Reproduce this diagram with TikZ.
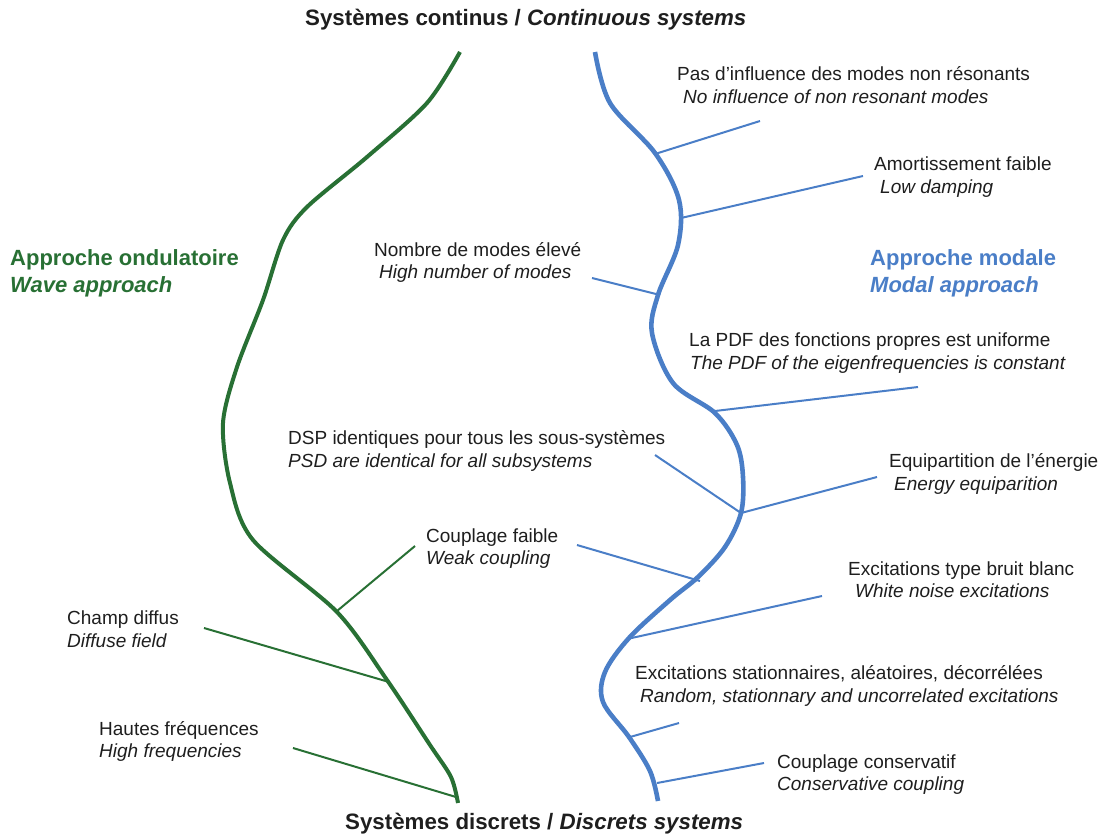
\documentclass[tikz,border=0pt]{standalone}
\usepackage{fontspec}
\setmainfont{Liberation Sans}
\definecolor{wavegreen}{RGB}{40,112,52}
\definecolor{modalblue}{RGB}{74,126,199}
\definecolor{txt}{RGB}{30,30,30}
\tikzset{
  lbl/.style={anchor=base west, inner sep=0pt, text=txt, font=\fontsize{19}{22}\selectfont},
  lbli/.style={lbl, font=\fontsize{19}{22}\selectfont\itshape},
  ttl/.style={anchor=base west, inner sep=0pt, text=txt, font=\fontsize{22.3}{26}\selectfont\bfseries},
  grouplbl/.style={anchor=base west, inner sep=0pt, font=\fontsize{22}{26}\selectfont\bfseries},
  greencurve/.style={draw=wavegreen, line width=4pt},
  bluecurve/.style={draw=modalblue, line width=4.6pt},
  greenbranch/.style={draw=wavegreen, line width=2pt},
  bluebranch/.style={draw=modalblue, line width=2pt},
}
\begin{document}
\begin{tikzpicture}[x=1pt,y=-1pt]
\useasboundingbox (0,0) rectangle (1105,839);

% titles
\node[ttl] (top) at (305,25) {Systèmes continus / \textit{Continuous systems}};
\node[ttl] (bottom) at (345,829) {Systèmes discrets / \textit{Discrets systems}};

% group labels
\node[grouplbl, text=wavegreen] (wave1) at (10,265) {Approche ondulatoire};
\node[grouplbl, text=wavegreen] (wave2) at (10,292) {\itshape Wave approach};
\node[grouplbl, text=modalblue] (modal1) at (870,265) {Approche modale};
\node[grouplbl, text=modalblue] (modal2) at (870,292) {\itshape Modal approach};

% main curves
\draw[greencurve] plot[smooth, tension=0.5] coordinates {(460,52) (427,103) (367,157) (307,207) (283,240) (263,300) (237,367) (223,423) (230,483) (253,540) (337,612) (387,680) (430,745) (451,777) (458,803)};
\draw[bluecurve] plot[smooth, tension=0.55] coordinates {(595,52) (610,103) (655,153) (679,200) (678,245) (658,295) (652,333) (673,383) (715,413) (737,445) (743,477) (741,513) (725,547) (698,577) (670,600) (629,638) (605,672) (603,702) (629,737) (650,771) (658,801)};

% branch points on curves
\coordinate (pb1) at (655,154);
\coordinate (pb2) at (681,218);
\coordinate (pb3) at (660,295);
\coordinate (pb4) at (715,411);
\coordinate (pb5) at (741,513);
\coordinate (pb7) at (700,581);
\coordinate (pb8) at (627,639);
\coordinate (pb9) at (630,737);
\coordinate (pb10) at (657,783);
\coordinate (pg1) at (337,611);
\coordinate (pg2) at (389,682);
\coordinate (pg3) at (456,797);

% free ends
\coordinate (eb1) at (760,121);
\coordinate (eb2) at (863,176);
\coordinate (eb3) at (592,278);
\coordinate (eb4) at (918,387);
\coordinate (eb5) at (655,455);
\coordinate (eb6) at (877,477);
\coordinate (eb7) at (577,545);
\coordinate (eb8) at (822,596);
\coordinate (eb9) at (679,723);
\coordinate (eb10) at (764,763);
\coordinate (eg1) at (415,546);
\coordinate (eg2) at (204,628);
\coordinate (eg3) at (293,748);

% branches
\draw[bluebranch] (pb1) -- (eb1);
\draw[bluebranch] (pb2) -- (eb2);
\draw[bluebranch] (pb3) -- (eb3);
\draw[bluebranch] (pb4) -- (eb4);
\draw[bluebranch] (pb5) -- (eb5);
\draw[bluebranch] (pb5) -- (eb6);
\draw[bluebranch] (pb7) -- (eb7);
\draw[bluebranch] (pb8) -- (eb8);
\draw[bluebranch] (pb9) -- (eb9);
\draw[bluebranch] (pb10) -- (eb10);
\draw[greenbranch] (pg1) -- (eg1);
\draw[greenbranch] (pg2) -- (eg2);
\draw[greenbranch] (pg3) -- (eg3);

% labels
\node[lbl]  (l1a) at (677,80) {Pas d’influence des modes non résonants};
\node[lbli] (l1b) at (683,103) {No influence of non resonant modes};
\node[lbl]  (l2a) at (874,170) {Amortissement faible};
\node[lbli] (l2b) at (880,193) {Low damping};
\node[lbl]  (l3a) at (374,256) {Nombre de modes élevé};
\node[lbli] (l3b) at (379,278) {High number of modes};
\node[lbl]  (l4a) at (689,346) {La PDF des fonctions propres est uniforme};
\node[lbli] (l4b) at (690,369) {The PDF of the eigenfrequencies is constant};
\node[lbl]  (l5a) at (288,444) {DSP identiques pour tous les sous-systèmes};
\node[lbli] (l5b) at (288,467) {PSD are identical for all subsystems};
\node[lbl]  (l6a) at (889,467) {Equipartition de l’énergie};
\node[lbli] (l6b) at (894,490) {Energy equiparition};
\node[lbl]  (l7a) at (426,542) {Couplage faible};
\node[lbli] (l7b) at (426,564) {Weak coupling};
\node[lbl]  (l8a) at (848,575) {Excitations type bruit blanc};
\node[lbli] (l8b) at (855,597) {White noise excitations};
\node[lbl]  (l9a) at (67,624) {Champ diffus};
\node[lbli] (l9b) at (67,647) {Diffuse field};
\node[lbl]  (l10a) at (635,679) {Excitations stationnaires, aléatoires, décorrélées};
\node[lbli] (l10b) at (640,702) {Random, stationnary and uncorrelated excitations};
\node[lbl]  (l11a) at (99,735) {Hautes fréquences};
\node[lbli] (l11b) at (99,757) {High frequencies};
\node[lbl]  (l12a) at (777,768) {Couplage conservatif};
\node[lbli] (l12b) at (777,790) {Conservative coupling};
\end{tikzpicture}
\end{document}
